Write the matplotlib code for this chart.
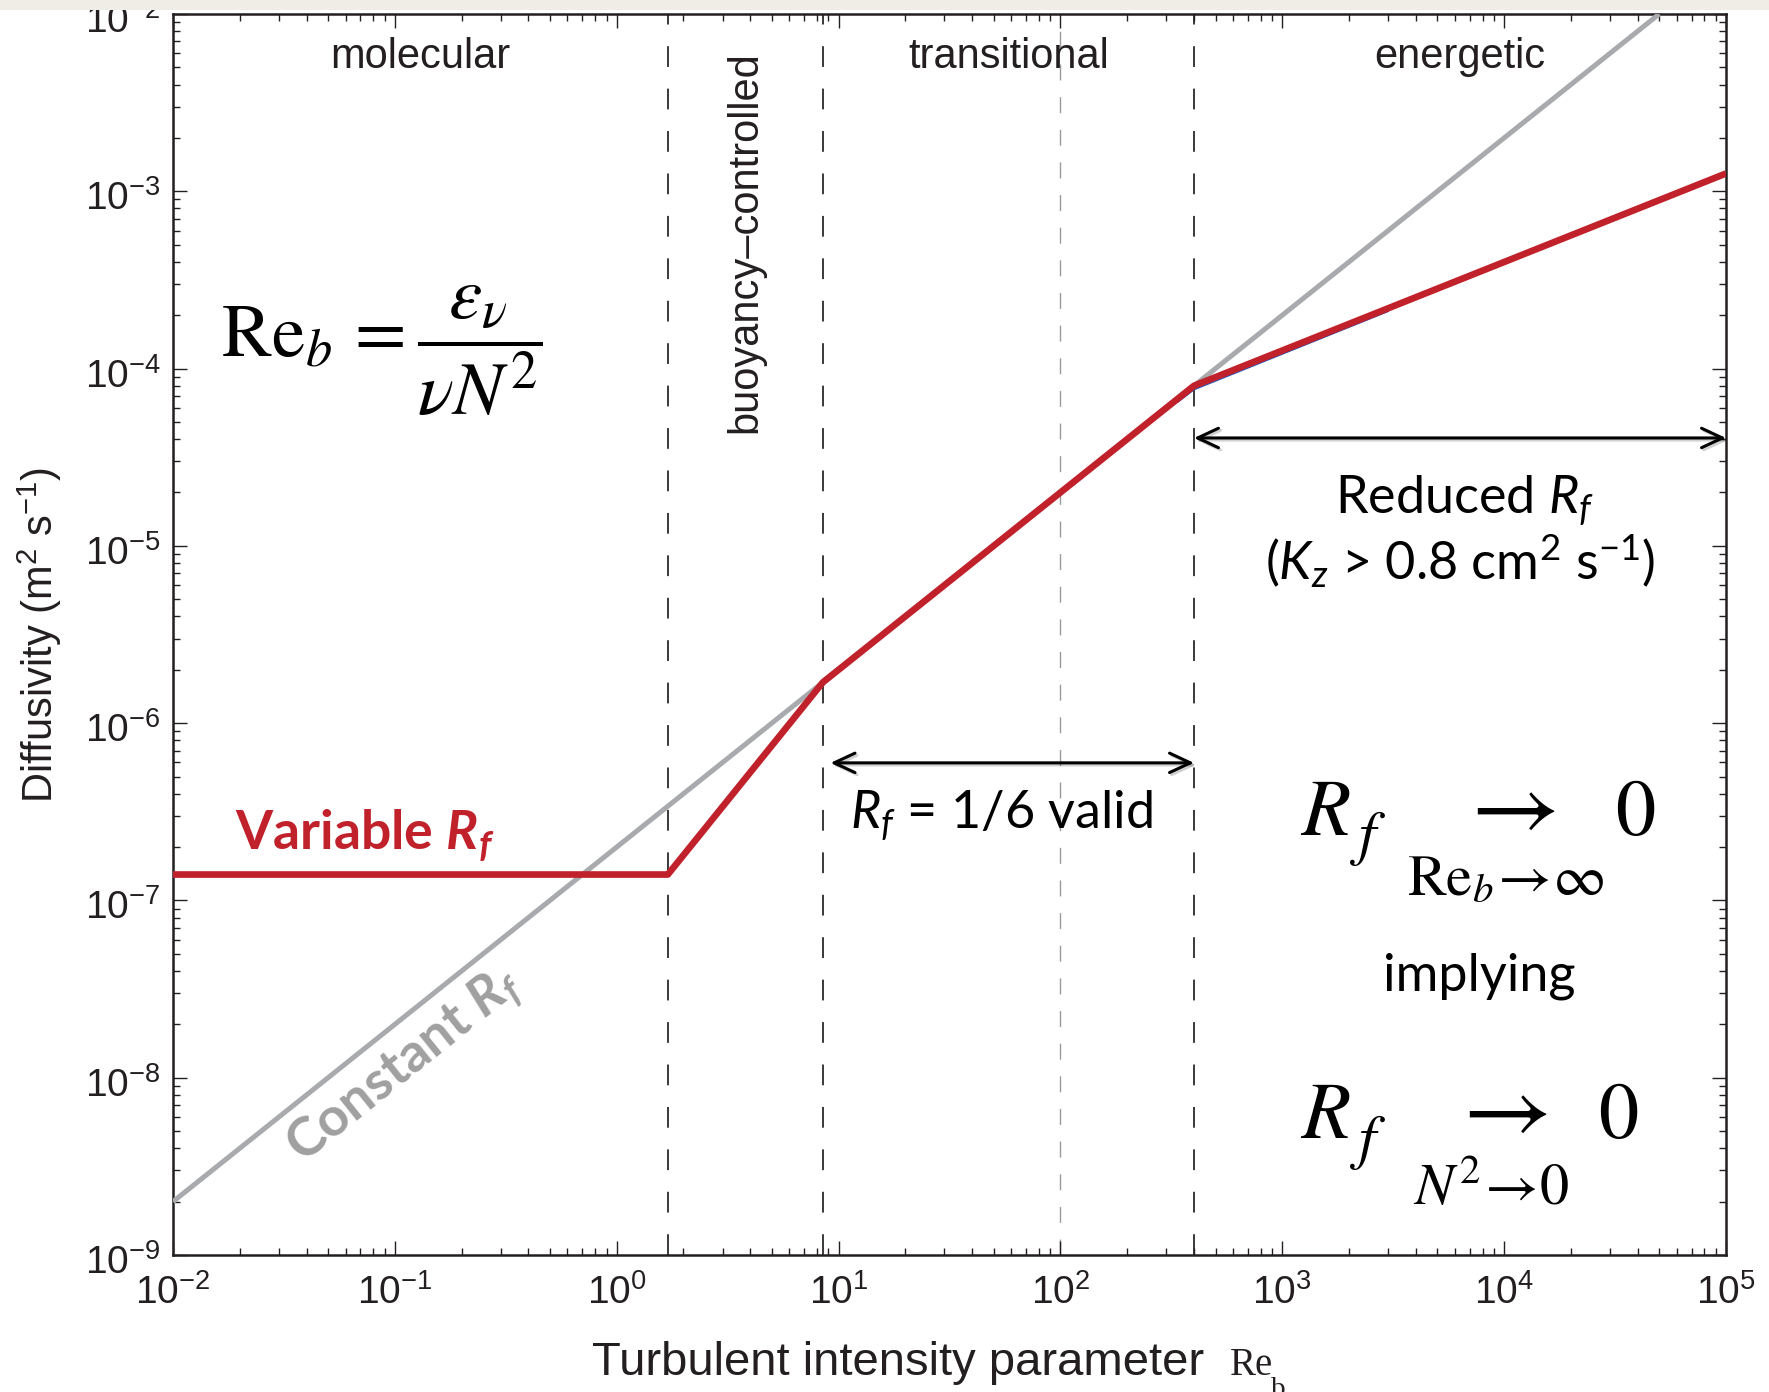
import numpy as np
import matplotlib.pyplot as plt
import matplotlib.patheffects as pe
from matplotlib.patches import FancyArrowPatch, Rectangle
from matplotlib.ticker import FixedLocator, LogLocator, NullFormatter
from matplotlib.transforms import ScaledTranslation

plt.rcParams['font.family'] = ['Liberation Sans', 'DejaVu Sans']
plt.rcParams['mathtext.fontset'] = 'custom'
plt.rcParams['mathtext.rm'] = 'Lato'
plt.rcParams['mathtext.it'] = 'Lato:italic'
plt.rcParams['mathtext.bf'] = 'Lato:bold'
if 'mathtext.bfit' in plt.rcParams:
    plt.rcParams['mathtext.bfit'] = 'Lato:italic:bold'

# regime boundaries in Re_b
re_edges = [1e-2, 1.7, 8.5, 400, 1e5]
regime_names = ['molecular', 'buoyancy\u2013controlled', 'transitional', 'energetic']
re_guide = 100

# diffusivity for a variable mixing efficiency
var_re = [1e-2, 1.7, 8.5, 400, 1e5]
var_kz = [1.4e-7, 1.4e-7, 1.7e-6, 8.0e-5, 1.26e-3]

# diffusivity for constant R_f = 1/6
const_re = [1e-2, 5e4]
const_kz = [2e-9, 1e-2]

# thin blue trace just under the red curve
blue_re = [340, 400, 3000]
blue_kz = [6.5e-5, 7.6e-5, 2.1e-4]

x_ticks = [1e-2, 1e-1, 1e0, 1e1, 1e2, 1e3, 1e4, 1e5]
y_ticks = [1e-9, 1e-8, 1e-7, 1e-6, 1e-5, 1e-4, 1e-3, 1e-2]

RED = '#c1212a'
GREY = '#a8aaad'
INK = '#231f20'

W, H = 1769, 1392
fig = plt.figure(figsize=(W / 100, H / 100), dpi=100)
ax = fig.add_axes([173 / W, 1 - 1255 / H, 1553 / W, 1241 / H])
ax.set_xscale('log')
ax.set_yscale('log')
ax.set_xlim(x_ticks[0], x_ticks[-1])
ax.set_ylim(y_ticks[0], y_ticks[-1])

for axis, ticks in ((ax.xaxis, x_ticks), (ax.yaxis, y_ticks)):
    axis.set_major_locator(FixedLocator(ticks))
    axis.set_minor_locator(LogLocator(base=10, subs=np.arange(2, 10), numticks=100))
    axis.set_minor_formatter(NullFormatter())
ax.tick_params(which='both', direction='in', top=True, right=True,
               color=INK, labelcolor=INK, width=1.0, labelsize=28)
ax.tick_params(which='major', length=10)
ax.tick_params(which='minor', length=5)
ax.tick_params(axis='x', pad=14)
ax.tick_params(axis='y', pad=9)
for sp in ax.spines.values():
    sp.set_linewidth(1.8)
    sp.set_color(INK)

# nudge the y tick labels down a little
nudge = ScaledTranslation(0, -0.04, fig.dpi_scale_trans)
for tk in ax.yaxis.get_major_ticks():
    tk.label1.set_transform(tk.label1.get_transform() + nudge)

# regime separators
dash = (0, (11.5, 12))
for r in re_edges[1:-1]:
    ax.axvline(r, color='#2a2a2a', lw=1.3, ls=dash, zorder=1.5)
ax.axvline(re_guide, color='#9a9a9a', lw=1.0, ls=dash, zorder=1.5)

ax.plot(const_re, const_kz, color=GREY, lw=3.6, solid_capstyle='butt', zorder=3)
ax.plot(blue_re, blue_kz, color='#1f4fb5', lw=1.0, zorder=3.5)
ax.plot(var_re, var_kz, color=RED, lw=4.8, solid_capstyle='butt', zorder=4)

# regime labels
for i, name in enumerate(regime_names):
    xc = np.sqrt(re_edges[i] * re_edges[i + 1])
    if i == 1:
        ax.text(xc, 0.970, name, rotation=90, ha='center', va='top', fontsize=30,
                color=INK, transform=ax.get_xaxis_transform())
    else:
        ax.text(xc, 0.9565, name, ha='center', va='baseline', fontsize=30,
                color=INK, transform=ax.get_xaxis_transform())

ax.set_ylabel('Diffusivity (m$^{\\mathdefault{2}}$ s$^{\\mathdefault{-1}}$)',
              fontsize=30, color=INK)
ax.yaxis.set_label_coords(-0.070, 0.5)

# x label with a serif Re_b
ta = ax.transAxes
ax.text(0.6639, -0.0967, 'Turbulent intensity parameter', ha='right', va='baseline',
        fontsize=34, color=INK, transform=ta, clip_on=False)
ax.text(0.6806, -0.0967, 'Re', family='Liberation Serif', ha='left', va='baseline',
        fontsize=28, color=INK, transform=ta, clip_on=False)
ax.text(0.7070, -0.1144, 'b', family='Liberation Serif', ha='left', va='baseline',
        fontsize=21, color=INK, transform=ta, clip_on=False)

# formulas
ax.text(0.0309, 0.7284, r'$\mathrm{Re}_b\,=\dfrac{\varepsilon_\nu}{\nu N^2}$',
        math_fontfamily='stix', fontsize=54, ha='left', va='center', transform=ta)

stix = dict(math_fontfamily='stix', transform=ta, va='baseline')
for yb, yf, ys, xa, x0, xs, sub in [(0.3384, 0.3239, 0.2901, 0.8583, 0.9285, 0.7946,
                                     r'$\mathrm{Re}_b\!\rightarrow\!\infty$'),
                                    (0.0943, 0.0790, 0.0403, 0.8532, 0.9176, 0.7985,
                                     r'$N^2\!\rightarrow\!0$')]:
    ax.text(0.7257, yb, r'$R$', fontsize=58, ha='left', **stix)
    ax.text(0.7579, yf, r'$f$', fontsize=44, ha='left', **stix)
    ax.text(xa, yb, r'$\rightarrow$', fontsize=70, ha='center', **stix)
    ax.text(x0, yb, r'$0$', fontsize=58, ha='left', **stix)
    ax.text(xs, ys, sub, fontsize=42, ha='left', **stix)

cal = dict(family='Lato', fontsize=37.5, transform=ta)
ax.text(0.8410, 0.2135, 'implying', ha='center', va='baseline', **cal)
ax.text(0.8319, 0.5979, 'Reduced $R_f$', ha='center', va='baseline', **cal)
ax.text(0.8287, 0.5439, '($K_z$ > 0.8 cm$^2$ s$^{-1}$)', ha='center', va='baseline', **cal)
ax.text(0.4359, 0.3441, '$R_f$ = 1/6 valid', ha='left', va='baseline', **cal)
ax.text(0.0399, 0.3264, r'Variable $\mathbfit{R_f}$', ha='left', va='baseline',
        fontweight='bold', color=RED, family='Lato', fontsize=38.5, transform=ta)

# label along the constant-R_f line
p0, p1 = ax.transData.transform([(const_re[0], const_kz[0]), (const_re[1], const_kz[1])])
angle = np.degrees(np.arctan2(p1[1] - p0[1], p1[0] - p0[0]))
ax.text(0.111, 1.16e-8, r'Constant $\mathbfit{R_f}$', family='Lato', fontsize=39,
        fontweight='bold', color='#a0a0a0', rotation=angle, rotation_mode='anchor',
        ha='center', va='center')

# validity ranges
shadow = [pe.SimpleLineShadow(offset=(1.5, -1.5), shadow_color='k', alpha=0.18), pe.Normal()]
for xa0, xa1, ya in [(9.2, re_edges[3], 5.97e-7), (re_edges[3], re_edges[4], 4.06e-5)]:
    arr = FancyArrowPatch((xa0, ya), (xa1, ya), arrowstyle='<->,head_length=15,head_width=7',
                          mutation_scale=1, lw=2.2, color='k', shrinkA=0, shrinkB=0,
                          zorder=5, clip_on=False, path_effects=shadow)
    ax.add_patch(arr)

fig.add_artist(Rectangle((0, 1 - 10 / H), 1, 10 / H, transform=fig.transFigure,
                         facecolor='#f0ede7', edgecolor='none', zorder=10))

fig.savefig('out.png', dpi=100)
